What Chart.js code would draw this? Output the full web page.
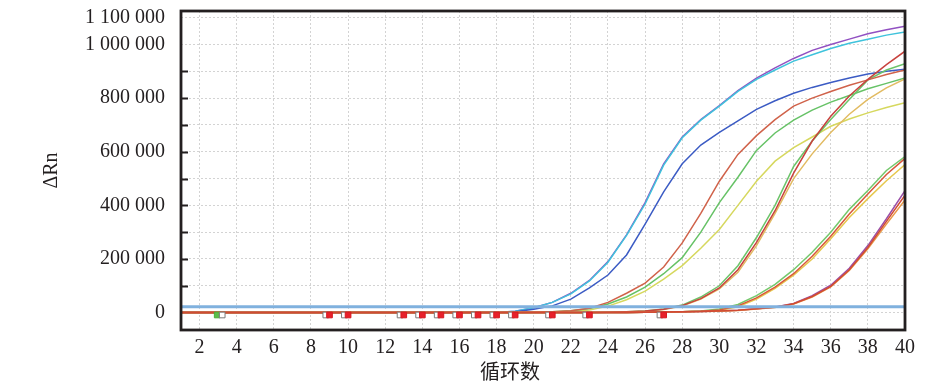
<!DOCTYPE html>
<html>
<head>
<meta charset="utf-8">
<script src="https://cdn.jsdelivr.net/npm/chart.js@4.4.1/dist/chart.umd.min.js"></script>
<style>
html,body{margin:0;padding:0;background:#fff;}
#wrap{width:950px;height:383px;position:relative;}
</style>
</head>
<body>
<div id="wrap"><canvas id="c"></canvas></div>
<script>
// ΔRn values are in thousands (kΔRn); cycles 1..40
const cycles = [1,2,3,4,5,6,7,8,9,10,11,12,13,14,15,16,17,18,19,20,21,22,23,24,25,26,27,28,29,30,31,32,33,34,35,36,37,38,39,40];

const a1Purple = [0,0,0,0,0,0,0,0,0,0,0,0,0,0,0,0,0,0,5,18,38,72,120,190,290,410,555,655,720,772,828,875,913,948,978,1000,1020,1040,1055,1068];
const a2Cyan   = [0,0,0,0,0,0,0,0,0,0,0,0,0,0,0,0,0,0,5,18,38,70,118,188,288,405,550,652,718,770,825,870,905,938,962,985,1005,1020,1035,1047];
const a3Blue   = [0,0,0,0,0,0,0,0,0,0,0,0,0,0,0,0,0,0,3,12,25,50,92,140,215,330,450,555,625,672,715,758,790,818,840,858,875,890,900,908];
const b1Red    = [0,0,0,0,0,0,0,0,0,0,0,0,0,0,0,0,0,0,0,1,3,7,16,38,72,110,170,260,370,490,590,660,720,770,800,825,848,868,888,905];
const b2Green  = [0,0,0,0,0,0,0,0,0,0,0,0,0,0,0,0,0,0,0,1,3,7,15,32,58,95,145,205,300,410,505,605,670,718,755,785,810,835,855,875];
const b3Yellow = [0,0,0,0,0,0,0,0,0,0,0,0,0,0,0,0,0,0,0,1,2,5,10,24,48,80,125,175,240,310,400,490,565,615,655,695,722,745,765,783];
const c1Red    = [0,0,0,0,0,0,0,0,0,0,0,0,0,0,0,0,0,0,0,0,0,0,0,1,3,6,12,26,52,92,160,262,380,520,640,732,808,870,925,975];
const c2Green  = [0,0,0,0,0,0,0,0,0,0,0,0,0,0,0,0,0,0,0,0,0,0,0,1,3,6,13,28,58,100,175,280,400,545,640,720,795,868,905,928];
const c3Tan    = [0,0,0,0,0,0,0,0,0,0,0,0,0,0,0,0,0,0,0,0,0,0,0,1,2,5,11,24,50,88,150,250,370,500,592,672,740,795,838,872];
const d1Green  = [0,0,0,0,0,0,0,0,0,0,0,0,0,0,0,0,0,0,0,0,0,0,0,0,0,1,2,3,6,13,30,63,105,160,225,300,385,455,530,582];
const d2Red    = [0,0,0,0,0,0,0,0,0,0,0,0,0,0,0,0,0,0,0,0,0,0,0,0,0,1,2,3,5,10,25,55,95,145,210,285,368,442,515,575];
const d3Yellow = [0,0,0,0,0,0,0,0,0,0,0,0,0,0,0,0,0,0,0,0,0,0,0,0,0,1,2,3,5,8,22,50,90,140,200,275,355,425,492,552];
const e1Purple = [0,0,0,0,0,0,0,0,0,0,0,0,0,0,0,0,0,0,0,0,0,0,0,0,0,1,2,3,4,6,9,14,21,34,63,102,165,250,350,455];
const e2Red    = [0,0,0,0,0,0,0,0,0,0,0,0,0,0,0,0,0,0,0,0,0,0,0,0,0,1,2,3,4,6,9,14,20,33,60,98,160,243,340,438];
const e3Orange = [0,0,0,0,0,0,0,0,0,0,0,0,0,0,0,0,0,0,0,0,0,0,0,0,0,1,2,3,4,5,8,13,19,32,58,96,157,238,330,420];

const thresholdValue = 22;
const thresholdCycles = [1, 40];

const markerY = -9;
const redMarkerCycles   = [9,10,13,14,15,16,17,18,19,21,23,27];
const whiteMarkerCycles = [8.8,9.8,12.8,13.8,14.8,15.8,16.8,17.8,18.8,20.8,22.8,26.8,3.22];
const greenMarkerCycles = [2.95];

const xTickValues = [2,4,6,8,10,12,14,16,18,20,22,24,26,28,30,32,34,36,38,40];
const yTickValues = [0,100,200,300,400,500,600,700,800,900,1000,1100];
const yLabelledValues = [0,200,400,600,800,1000,1100];
const yInnerTickValues = [100,200,300,400,500,600,700,800,900];
const UNIT = 1000;

const xTitle = '循环数';
const yTitle = 'ΔRn';

// listed top-most first (earlier datasets are painted above later ones)
const series = [
  {v: e2Red,    c: '#d04a34'},
  {v: d2Red,    c: '#d8583a'},
  {v: e3Orange, c: '#e89a48'},
  {v: c1Red,    c: '#c8423e'},
  {v: b1Red,    c: '#d0624a'},
  {v: e1Purple, c: '#9a4fa8'},
  {v: d1Green,  c: '#74c86c'},
  {v: d3Yellow, c: '#e6c84e'},
  {v: c2Green,  c: '#6cc46a'},
  {v: c3Tan,    c: '#e2bb62'},
  {v: b2Green,  c: '#66c266'},
  {v: b3Yellow, c: '#d6d85e'},
  {v: a3Blue,   c: '#3b5bc4'},
  {v: a2Cyan,   c: '#3fc3dc'},
  {v: a1Purple, c: '#9150c2'}
];

function fmt(n){ return String(n).replace(/\B(?=(\d{3})+(?!\d))/g, ' '); }

const datasets = [];
datasets.push({
  label: 'red markers', data: redMarkerCycles.map(x => ({x, y: markerY})),
  showLine: false, pointStyle: 'rect', pointRadius: 4, pointBorderWidth: 1,
  pointBackgroundColor: '#e8202a', pointBorderColor: '#d81820', order: 1
});
datasets.push({
  label: 'white markers', data: whiteMarkerCycles.map(x => ({x, y: markerY})),
  showLine: false, pointStyle: 'rect', pointRadius: 4, pointBorderWidth: 1,
  pointBackgroundColor: '#ffffff', pointBorderColor: '#7a7a7a', order: 1
});
datasets.push({
  label: 'green markers', data: greenMarkerCycles.map(x => ({x, y: markerY})),
  showLine: false, pointStyle: 'rect', pointRadius: 4, pointBorderWidth: 1,
  pointBackgroundColor: '#5cbf4a', pointBorderColor: '#4caf3a', order: 1
});
datasets.push({
  label: 'threshold', data: thresholdCycles.map(x => ({x, y: thresholdValue})),
  borderColor: '#80b1de', borderWidth: 3, pointRadius: 0, order: 2
});
series.forEach((s, k) => {
  datasets.push({
    label: 'curve ' + (k+1),
    data: cycles.map((x, i) => ({x, y: s.v[i]})),
    borderColor: s.c, borderWidth: 1.5, pointRadius: 0, tension: 0, order: 3
  });
});

const framePlugin = {
  id: 'frame',
  beforeDraw(chart){
    const ctx = chart.ctx;
    ctx.save(); ctx.fillStyle = '#fff'; ctx.fillRect(0,0,chart.width,chart.height); ctx.restore();
  },
  afterDraw(chart){
    const ctx = chart.ctx, a = chart.chartArea, y = chart.scales.y;
    ctx.save();
    ctx.strokeStyle = '#231f20';
    ctx.lineWidth = 2;
    yInnerTickValues.forEach(v => {
      const py = Math.round(y.getPixelForValue(v)) + 0.5;
      ctx.beginPath(); ctx.moveTo(a.left, py); ctx.lineTo(a.left + 7, py); ctx.stroke();
    });
    ctx.lineWidth = 2.8;
    ctx.strokeRect(a.left, a.top, a.right - a.left, a.bottom - a.top);
    ctx.fillStyle = '#231f20';
    ctx.font = '20px "Noto Sans CJK SC"';
    ctx.textAlign = 'center';
    ctx.textBaseline = 'middle';
    ctx.fillText(xTitle, 510, 371);
    ctx.restore();
  }
};

new Chart(document.getElementById('c'), {
  type: 'line',
  data: { datasets },
  options: {
    responsive: true, maintainAspectRatio: false, animation: false,
    layout: { padding: { top: 11, right: 45, left: 0, bottom: 0 } },
    plugins: { legend: { display: false }, tooltip: { enabled: false } },
    scales: {
      x: {
        type: 'linear', min: 1, max: 40,
        afterBuildTicks(scale){ scale.ticks = xTickValues.map(v => ({value: v})); },
        afterFit(scale){ scale.height = 53; scale.paddingLeft = 0; scale.paddingRight = 0; },
        grid: { color: '#d3d3d3', lineWidth: 1, drawTicks: false },
        border: { display: false, dash: [2,2] },
        ticks: { autoSkip: false, maxRotation: 0, padding: 6, color: '#231f20',
                 font: { family: 'Liberation Serif', size: 20 } }
      },
      y: {
        type: 'linear', min: -65, max: 1125,
        afterBuildTicks(scale){ scale.ticks = yTickValues.map(v => ({value: v})); },
        afterFit(scale){ scale.width = 181; scale.paddingTop = 0; scale.paddingBottom = 0; },
        grid: { color: '#d3d3d3', lineWidth: 1, drawTicks: false },
        border: { display: false, dash: [2,2] },
        title: { display: true, text: yTitle, color: '#231f20',
                 font: { family: 'Liberation Serif', size: 20 }, padding: { top: 39.5, bottom: 0 } },
        ticks: { autoSkip: false, padding: 16, color: '#231f20',
                 font: { family: 'Liberation Serif', size: 20 },
                 callback(v){ return yLabelledValues.includes(v) ? fmt(v * UNIT) : ''; } }
      }
    }
  },
  plugins: [framePlugin]
});
</script>
</body>
</html>
